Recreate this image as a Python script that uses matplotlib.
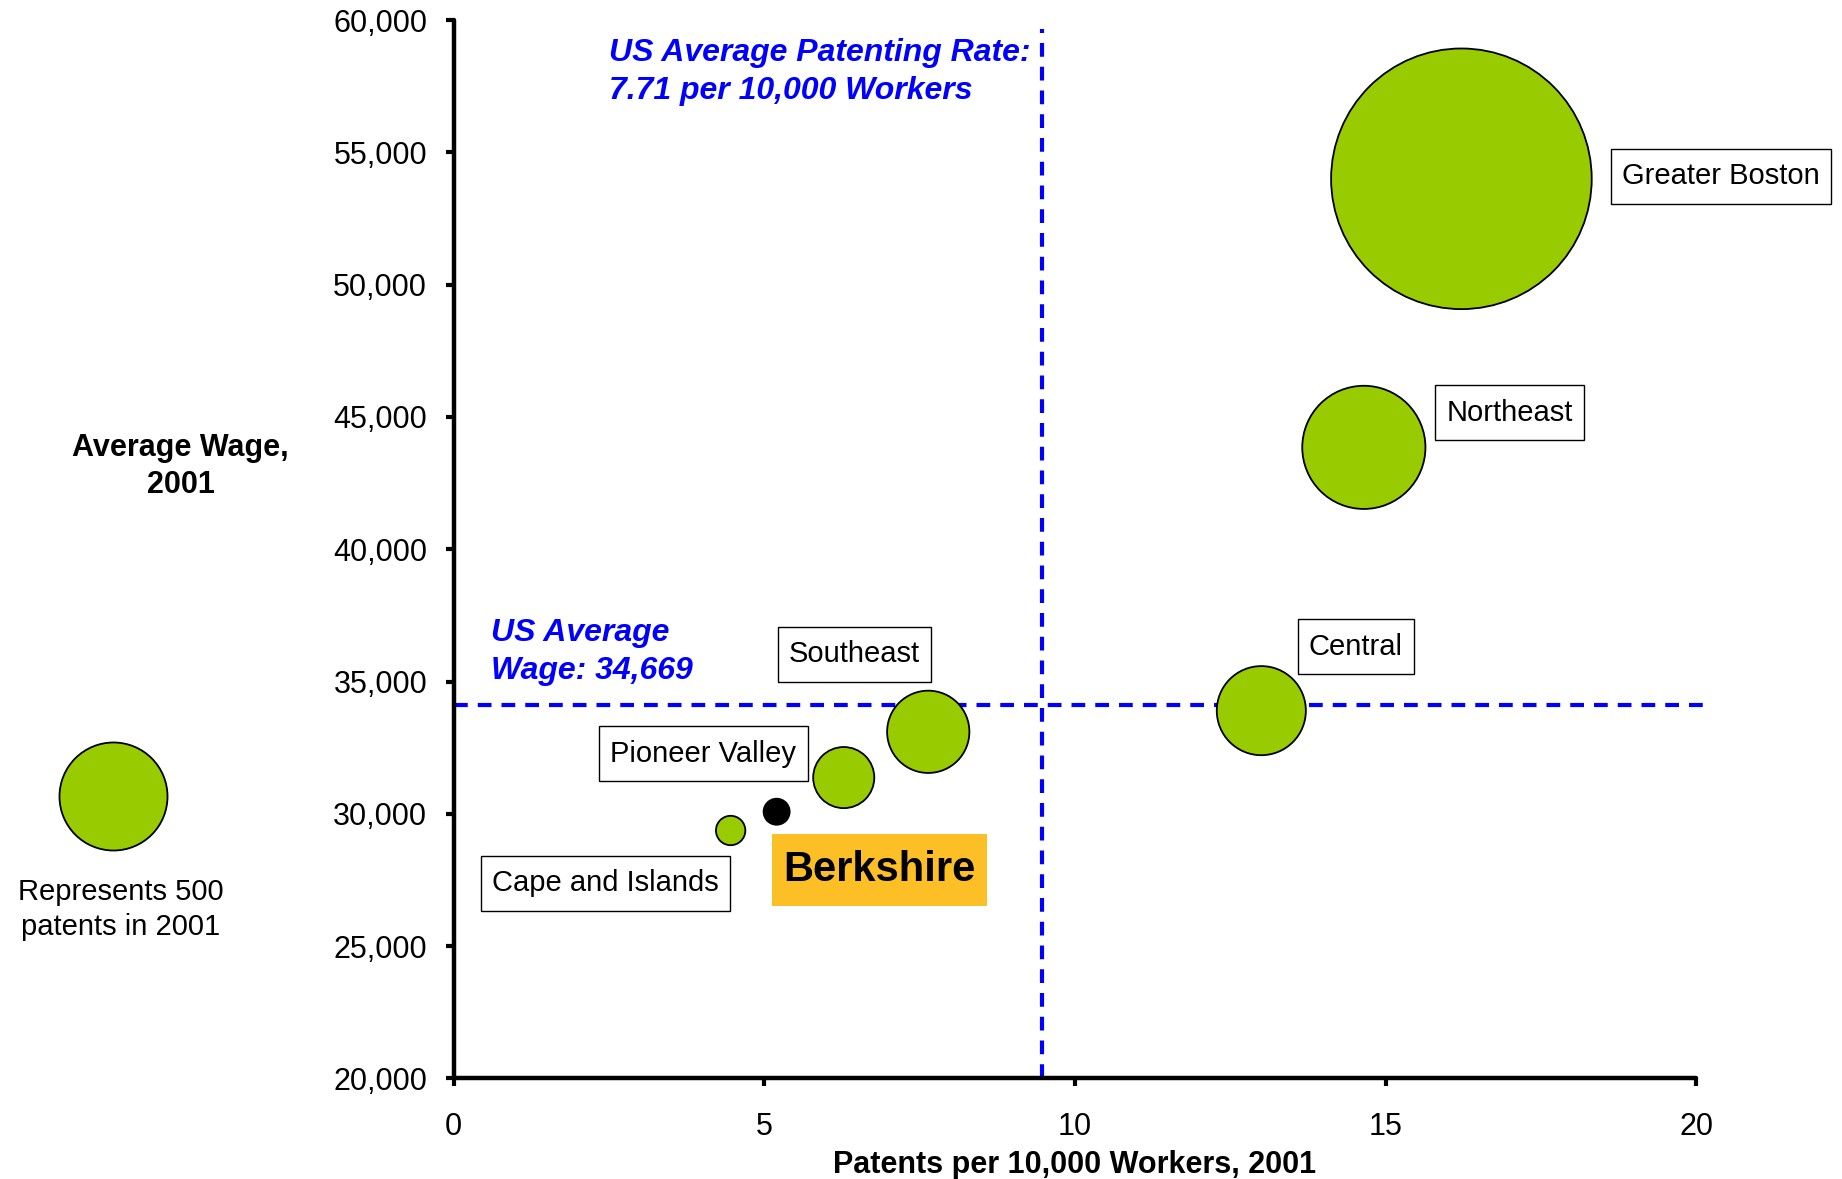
"""
Patents per 10,000 workers vs average wage, Massachusetts regions, 2001.
Bubble area = number of patents.
"""

import matplotlib.pyplot as plt

OUT_PATH = "out.png"

regions = ["Greater Boston", "Northeast", "Central", "Southeast",
           "Pioneer Valley", "Cape and Islands", "Berkshire"]
patent_rate = [16.22, 14.65, 13.0, 7.64, 6.28, 4.46, 5.20]
avg_wage = [54000, 43850, 33900, 33100, 31370, 29370, 30080]
patents = [2910, 650, 340, 290, 160, 37, 29]

us_rate_line = 9.47
us_wage_line = 34120
key_patents = 500

# label offsets from each bubble, in points
label_offsets = [(187, 2), (105, 25), (68, 46), (-53, 56),
                 (-101, 17), (-90, -38), (74, -42)]

GREEN = "#99CC00"
BLUE = "#0000FF"
SIZE_SCALE = 12.1  # points^2 per patent

plt.rcParams["font.family"] = ["Liberation Sans", "DejaVu Sans"]

fig = plt.figure(figsize=(18.42, 11.79), dpi=100)
ax = fig.add_axes([0.2462, 0.0853, 0.6747, 0.8977])

# reference lines
ax.plot([0, 20.1], [us_wage_line, us_wage_line], color=BLUE, lw=3.0,
        dashes=(3.3, 2.4), clip_on=False, zorder=1)
ax.plot([us_rate_line, us_rate_line], [20000, 59650], color=BLUE, lw=3.0,
        dashes=(3.3, 2.4), clip_on=False, zorder=1)

colors = [GREEN] * (len(regions) - 1) + ["black"]
ax.scatter(patent_rate, avg_wage, s=[p * SIZE_SCALE for p in patents],
           c=colors, edgecolors="black", linewidths=1.3, zorder=3,
           clip_on=False)

for name, x, y, off in zip(regions, patent_rate, avg_wage, label_offsets):
    if name == "Berkshire":
        ax.annotate(name, (x, y), xytext=off, textcoords="offset points",
                    ha="center", va="center", fontsize=30, fontweight="bold",
                    bbox=dict(boxstyle="square,pad=0.27", fc="#FDBF26",
                              ec="none", mutation_aspect=1.42), zorder=4)
    else:
        ax.annotate(name, (x, y), xytext=off, textcoords="offset points",
                    ha="center", va="center", fontsize=21,
                    bbox=dict(boxstyle="square,pad=0.38", fc="white",
                              ec="black", lw=1.0, mutation_aspect=1.22),
                    zorder=4, annotation_clip=False)

ax.text(2.50, 58040, "US Average Patenting Rate:\n7.71 per 10,000 Workers",
        color=BLUE, fontsize=23, fontweight="bold", style="italic",
        ha="left", va="center", linespacing=1.35)
ax.text(0.60, 36100, "US Average\nWage: 34,669",
        color=BLUE, fontsize=23, fontweight="bold", style="italic",
        ha="left", va="center", linespacing=1.35)

# axes
ax.set_xlim(0, 20)
ax.set_ylim(20000, 60000)
ax.set_xticks([0, 5, 10, 15, 20])
ax.set_yticks(range(20000, 60001, 5000))
ax.set_yticklabels([f"{v:,}" for v in range(20000, 60001, 5000)])
for s in ["top", "right"]:
    ax.spines[s].set_visible(False)
for s in ["left", "bottom"]:
    ax.spines[s].set_linewidth(3.2)
    ax.spines[s].set_capstyle("round")
ax.tick_params(axis="both", labelsize=22, length=6, width=3, direction="out")
ax.tick_params(axis="y", pad=13)
ax.tick_params(axis="x", pad=18)
ax.set_xlabel("Patents per 10,000 Workers, 2001", fontsize=22,
              fontweight="bold", labelpad=6)

fig.text(0.098, 0.604, "Average Wage,\n2001", fontsize=22,
         fontweight="bold", ha="center", va="center", linespacing=1.3)

# size key
ax.scatter([0.0612], [0.3245], s=key_patents * SIZE_SCALE, c=GREEN,
           edgecolors="black", linewidths=1.3, transform=fig.transFigure,
           clip_on=False)
fig.text(0.0655, 0.2285, f"Represents {key_patents}\npatents in 2001",
         fontsize=21, ha="center", va="center", linespacing=1.35)

fig.savefig(OUT_PATH, dpi=100)
print(f"Saved {OUT_PATH}")
